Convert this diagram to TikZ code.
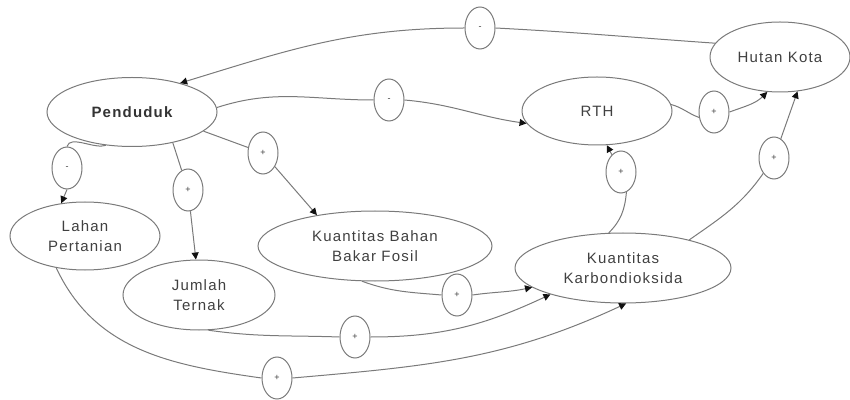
\documentclass[tikz,border=0pt]{standalone}
\usepackage{fontspec}
\setmainfont{Liberation Sans}
\usetikzlibrary{shapes.geometric,arrows.meta}
\definecolor{linegray}{HTML}{7A7A7A}
\definecolor{txtgray}{HTML}{404040}
\definecolor{tipblack}{HTML}{111111}
\begin{document}
\begin{tikzpicture}[x=1pt,y=1pt,
  var/.style={ellipse,draw=linegray,line width=1pt,inner sep=0pt,text=txtgray,
    font=\fontsize{15}{20}\selectfont\addfontfeature{LetterSpace=8},align=center},
  sgn/.style={ellipse,draw=linegray,line width=1pt,inner sep=0pt,
    minimum width=30pt,minimum height=42pt,text=txtgray,font=\fontsize{9}{9}\selectfont},
  link/.style={draw=linegray,line width=1pt},
  arr/.style={link,-{Triangle[length=7pt,width=7pt,color=tipblack]}}]
\useasboundingbox (0,0) rectangle (850,399);
% variables
\node[var,minimum width=170pt,minimum height=69pt,text=black!80] (pend) at (132,287) {\bfseries Penduduk};
\node[var,minimum width=140pt,minimum height=70pt] (hutan) at (780,342) {Hutan Kota};
\node[var,minimum width=150pt,minimum height=68pt] (rth) at (597,288) {RTH};
\node[var,minimum width=150pt,minimum height=68pt] (lahan) at (85,163) {Lahan\\Pertanian};
\node[var,minimum width=152pt,minimum height=70pt] (jumlah) at (199,104) {Jumlah\\Ternak};
\node[var,minimum width=234pt,minimum height=70pt] (kbbf) at (375,153) {Kuantitas Bahan\\Bakar Fosil};
\node[var,minimum width=216pt,minimum height=70pt] (kk) at (623,131) {Kuantitas\\Karbondioksida};
% signs
\node[sgn] (s1) at (480,371) {-};
\node[sgn] (s2) at (389,299) {-};
\node[sgn] (s3) at (263,246) {+};
\node[sgn] (s4) at (67,231) {-};
\node[sgn] (s5) at (188,209) {+};
\node[sgn] (s6) at (714,287) {+};
\node[sgn] (s7) at (621,227) {+};
\node[sgn] (s8) at (774,241) {+};
\node[sgn] (s9) at (457,104) {+};
\node[sgn] (s10) at (355,62) {+};
\node[sgn] (s11) at (277,21) {+};
% links
\draw[link] (hutan.168) to[out=176,in=-3] (s1.east);
\draw[arr] (s1.west) to[out=180,in=17] (pend.31);
\draw[link] (pend.3) to[out=18,in=180] (s2.west);
\draw[arr] (s2.east) to[out=-5,in=172] (rth.190);
\draw[link] (pend.-15) -- (s3);
\draw[arr] (s3) -- (kbbf.152);
\draw[link] (pend.232) to[out=200,in=75,looseness=0.8] (s4.north);
\draw[arr] (s4.south) -- (lahan.126);
\draw[link] (pend.-37) -- (s5);
\draw[arr] (s5) -- (jumlah.95);
\draw[link] (rth.5) to[out=-15,in=160] (s6.200);
\draw[arr] (s6.east) to[out=20,in=225] (hutan.250);
\draw[link] (kk.23) to[out=35,in=235] (s8.235);
\draw[arr] (s8) -- (hutan.297);
\draw[link] (kk.112) to[out=45,in=-95] (s7.-75);
\draw[arr] (s7) -- (rth.-74);
\draw[link] (kbbf.250) to[out=-20,in=175] (s9.west);
\draw[arr] (s9.east) to[out=8,in=192] (kk.192);
\draw[link] (jumlah.-75) to[out=-8,in=178] (s10.west);
\draw[arr] (s10.east) to[out=0,in=205] (kk.200);
\draw[link] (lahan.228) to[out=-65,in=172] (s11.west);
\draw[arr] (s11.east) to[out=5,in=205] (kk.275);
\end{tikzpicture}
\end{document}
